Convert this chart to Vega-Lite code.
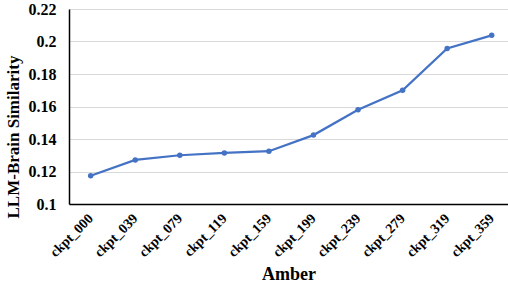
{
  "$schema": "https://vega.github.io/schema/vega-lite/v6.json",
  "width": 439,
  "height": 195,
  "autosize": "none",
  "padding": {"left": 69, "top": 9, "right": 0, "bottom": 80},
  "background": "white",
  "config": {
    "view": {"stroke": null},
    "font": "Liberation Serif",
    "axisLeft": {"titleAnchor": "start", "titleY": 209}
  },
  "data": {
    "values": [
      {"ckpt": "ckpt_000", "sim": 0.1174},
      {"ckpt": "ckpt_039", "sim": 0.1271},
      {"ckpt": "ckpt_079", "sim": 0.1300},
      {"ckpt": "ckpt_119", "sim": 0.1314},
      {"ckpt": "ckpt_159", "sim": 0.1325},
      {"ckpt": "ckpt_199", "sim": 0.1424},
      {"ckpt": "ckpt_239", "sim": 0.1580},
      {"ckpt": "ckpt_279", "sim": 0.1700},
      {"ckpt": "ckpt_319", "sim": 0.1957},
      {"ckpt": "ckpt_359", "sim": 0.2038}
    ]
  },
  "mark": {"type": "line", "color": "#4472C4", "strokeWidth": 2.25, "point": {"filled": true, "color": "#4472C4", "size": 30}},
  "encoding": {
    "x": {
      "field": "ckpt", "type": "ordinal", "sort": null,
      "scale": {"type": "point", "padding": 0.426, "align": 0.571},
      "axis": {
        "title": "Amber", "titleFont": "Liberation Serif", "titleFontSize": 18, "titleFontWeight": "bold", "titleColor": "#000", "titlePadding": 6,
        "labelAngle": -45, "labelAlign": "right", "labelBaseline": "middle", "labelFont": "Liberation Serif", "labelFontSize": 14, "labelFontWeight": "bold", "labelColor": "#000", "labelPadding": 12,
        "ticks": false, "domainColor": "#000", "domainWidth": 1.5, "grid": false
      }
    },
    "y": {
      "field": "sim", "type": "quantitative",
      "scale": {"domain": [0.1, 0.22], "nice": false, "zero": false},
      "axis": {
        "title": "LLM-Brain Similarity", "titleFont": "Liberation Serif", "titleFontSize": 17, "titleFontWeight": "bold", "titleColor": "#000",
        "titlePadding": 6,
        "values": [0.1, 0.12, 0.14, 0.16, 0.18, 0.2, 0.22], "format": ".2~f",
        "labelFont": "Liberation Serif", "labelFontSize": 16, "labelFontWeight": "bold", "labelColor": "#000", "labelPadding": 13,
        "ticks": false, "domainColor": "#000", "domainWidth": 1.5,
        "grid": true, "gridColor": "#d9d9d9", "gridWidth": 1
      }
    }
  }
}
